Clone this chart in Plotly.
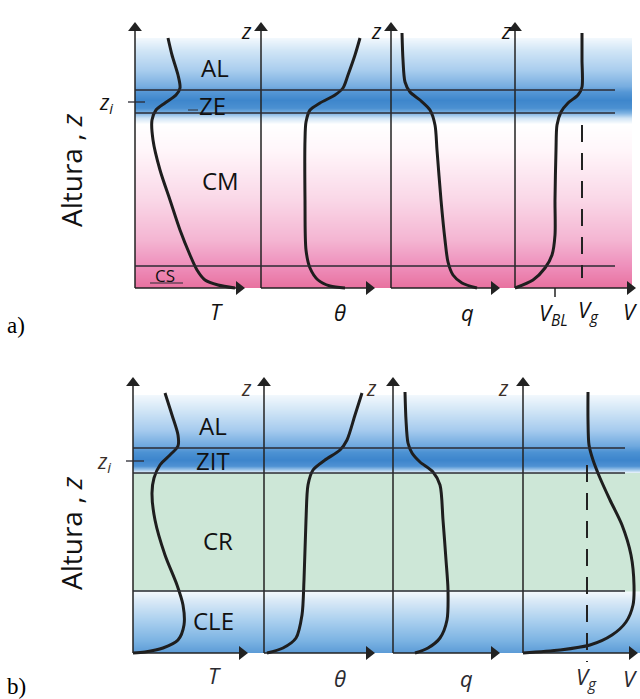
import numpy as np
import plotly.graph_objects as go

# ---------------- DATA ----------------
# Panel a) : height z (0 = ground), x = horizontal profile position
T_a_x = [168, 172, 178, 180, 176, 165, 156, 152, 153, 160, 170, 180, 190, 197, 205, 218, 235]
T_a_z = [250, 233, 213, 200, 193, 185, 178, 168, 148, 118, 88, 58, 33, 18, 8, 3, 0]
TH_a_x = [360, 355, 348, 343, 335, 320, 310, 306, 305, 305, 306, 310, 318, 330, 345]
TH_a_z = [250, 233, 213, 200, 193, 185, 178, 166, 148, 88, 38, 20, 8, 2, 0]
Q_a_x = [402, 403, 405, 410, 420, 430, 435, 437, 441, 445, 448, 453, 462, 477]
Q_a_z = [255, 228, 206, 196, 188, 178, 163, 138, 88, 48, 26, 13, 5, 0]
V_a_x = [582, 582, 582, 578, 568, 561, 557, 556, 555, 555, 552, 545, 533, 515]
V_a_z = [255, 228, 201, 193, 185, 176, 163, 138, 88, 53, 33, 20, 8, 0]

# Panel b)
T_b_x = [165, 172, 178, 178, 170, 160, 154, 152, 155, 165, 177, 183, 184, 178, 163, 145, 133]
T_b_z = [260, 238, 218, 207, 198, 188, 175, 160, 133, 98, 68, 48, 28, 13, 5, 1, 0]
TH_b_x = [362, 355, 347, 340, 325, 313, 308, 306, 304, 302, 296, 283, 267]
TH_b_z = [260, 238, 213, 203, 193, 183, 168, 133, 73, 38, 15, 5, 0]
Q_b_x = [405, 406, 408, 412, 420, 433, 440, 443, 446, 448, 447, 440, 428, 415]
Q_b_z = [261, 233, 210, 200, 191, 181, 168, 133, 93, 63, 33, 15, 5, 0]
V_b_x = [588, 588, 589, 593, 600, 610, 622, 631, 634, 633, 626, 612, 590, 560, 523]
V_b_z = [261, 233, 208, 193, 175, 153, 128, 98, 68, 48, 31, 18, 8, 3, 0]

# layer boundaries (height) and labels
layers_a_z = [198, 175, 22]
zi_a = 186
layers_b_z = [205, 180, 62]
zi_b = 192
layer_names_a = ["AL", "ZE", "CM", "CS"]
layer_names_b = ["AL", "ZIT", "CR", "CLE"]
var_labels_a = ["T", "θ", "q", "V<sub>BL</sub>", "V<sub>g</sub>", "V"]
var_labels_b = ["T", "θ", "q", "V<sub>g</sub>", "V"]
Vg_a = 582
VBL_a = 555
Vg_b = 587

# ---------------- STYLE ----------------
axes_x_a = [135, 261, 391, 515]
axes_x_b = [133, 264, 393, 523]
arrow_end_a = [245, 375, 500, 636]
arrow_end_b = [248, 375, 500, 638]
top_a, top_b = 266, 276

bg_a = [(0, "#e8719f"), (22, "#ee8fbb"), (48, "#f4b5d2"), (88, "#fad7e7"), (138, "#fff6fa"),
        (164, "#ffffff"), (170, "#d0e4f5"), (175, "#7fb3e2"), (180, "#4b90d1"), (188, "#3e86cc"),
        (196, "#5596d5"), (202, "#78aee0"), (218, "#a9cdee"), (238, "#d2e6f6"), (250, "#f2f8fd")]
bg_b = [(0, "#5b9ad6"), (13, "#7db4e3"), (33, "#abd0ef"), (53, "#dbeaf7"), (61.5, "#f4f9fd"),
        (62, "#cde7d7"), (180, "#cde7d7"), (180.5, "#e6f1fa"), (183, "#a5cbec"), (187, "#4f92d3"),
        (193, "#3d85cc"), (201, "#4d92d3"), (207, "#6ea8de"), (223, "#a6cbee"), (243, "#d2e6f6"),
        (258, "#f2f8fd")]

LINE = "#1e1e1e"
AX = "#222222"
SANS = "Open Sans, Arial, sans-serif"
SERIF = "Liberation Serif, Times New Roman, serif"


def hex2rgb(h):
    h = h.lstrip("#")
    return np.array([int(h[i:i + 2], 16) for i in (0, 2, 4)], dtype=float)


def gradient(stops, x0, x1, xa, ya):
    zs = np.array([s[0] for s in stops], dtype=float)
    cols = np.array([hex2rgb(s[1]) for s in stops])
    edges = np.arange(zs[0], zs[-1] + 0.5, 0.5)
    centers = (edges[:-1] + edges[1:]) / 2
    rgb = np.stack([np.interp(centers, zs, cols[:, k]) for k in range(3)], axis=1)
    n = len(centers)
    cs = [[i / (n - 1), "rgb(%d,%d,%d)" % tuple(np.round(rgb[i]).astype(int))] for i in range(n)]
    return go.Heatmap(z=[[i] for i in range(n)], x=[x0, x1], y=edges.tolist(), colorscale=cs,
                      zmin=0, zmax=n - 1, showscale=False, hoverinfo="skip", xaxis=xa, yaxis=ya)


fig = go.Figure()
fig.add_trace(gradient(bg_a, 135, 632, "x", "y"))
fig.add_trace(gradient(bg_b, 133, 640, "x2", "y2"))

shapes = []
annots = []


def line(x0, y0, x1, y1, xr, yr, w=1.3, color="#2b2b33", dash=None):
    d = dict(type="line", x0=x0, y0=y0, x1=x1, y1=y1, xref=xr, yref=yr,
             line=dict(color=color, width=w))
    if dash:
        d["line"]["dash"] = dash
    shapes.append(d)


def text(x, y, s, xr, yr, size=20, italic=False, font=SANS, color="#111", angle=0):
    annots.append(dict(x=x, y=y, xref=xr, yref=yr, text=("<i>%s</i>" % s) if italic else s,
                       showarrow=False, textangle=angle,
                       font=dict(family=font, size=size, color=color)))


def frame(axes_x, ends, top, xa, ya):
    # axis lines
    for ax_x, end in zip(axes_x, ends):
        line(ax_x, 0, ax_x, top - 6, xa, ya, w=1.5, color=AX)
        line(ax_x, 0, end - 6, 0, xa, ya, w=1.5, color=AX)
    # arrow heads
    fig.add_trace(go.Scatter(x=list(axes_x), y=[top - 6] * len(axes_x), mode="markers",
                             marker=dict(symbol="triangle-up", size=12, color=AX),
                             hoverinfo="skip", xaxis=xa, yaxis=ya))
    fig.add_trace(go.Scatter(x=[e - 6 for e in ends], y=[0] * len(ends), mode="markers",
                             marker=dict(symbol="triangle-right", size=12, color=AX),
                             hoverinfo="skip", xaxis=xa, yaxis=ya))


# subtle label box behind AL in panel b
shapes.append(dict(type="rect", x0=192, x1=238, y0=215, y1=251, xref="x2", yref="y2",
                   fillcolor="rgba(40,100,180,0.10)", line=dict(width=0), layer="below"))

frame(axes_x_a, arrow_end_a, top_a, "x", "y")
frame(axes_x_b, arrow_end_b, top_b, "x2", "y2")

for xs, zs in [(T_a_x, T_a_z), (TH_a_x, TH_a_z), (Q_a_x, Q_a_z), (V_a_x, V_a_z)]:
    fig.add_trace(go.Scatter(x=xs, y=zs, mode="lines", line=dict(color=LINE, width=3, shape="spline", smoothing=0.8),
                             hoverinfo="skip", xaxis="x", yaxis="y"))
for xs, zs in [(T_b_x, T_b_z), (TH_b_x, TH_b_z), (Q_b_x, Q_b_z), (V_b_x, V_b_z)]:
    fig.add_trace(go.Scatter(x=xs, y=zs, mode="lines", line=dict(color=LINE, width=3, shape="spline", smoothing=0.8),
                             hoverinfo="skip", xaxis="x2", yaxis="y2"))

# panel a details
for zl in layers_a_z:
    line(135, zl, 615, zl, "x", "y")
line(128, zi_a, 145, zi_a, "x", "y")
line(Vg_a, 163, Vg_a, 10, "x", "y", w=2, color="#222", dash="17px,11px")
line(VBL_a, 0, VBL_a, -9, "x", "y", w=1.5, color="#222")
line(150, 5, 183, 5, "x", "y", w=1.2)
line(188, 178, 198, 178, "x", "y", w=1.0)

# panel b details
for zl in layers_b_z:
    line(133, zl, 625, zl, "x2", "y2")
line(126, zi_b, 144, zi_b, "x2", "y2")
line(Vg_b, 188, Vg_b, -9, "x2", "y2", w=2, color="#222", dash="17px,11px")

# labels panel a
for (xx, zz), s in zip([(215, 221), (212, 183), (220, 108), (165, 13)], layer_names_a):
    text(xx, zz, s, "x", "y", size=24 if s != "CS" else 17)
for xx in [246, 376, 506]:
    text(xx, 257, "z", "x", "y", size=21, italic=True)
for (xx, zz), s in zip([(216, -23), (340, -24), (467, -24), (553, -26), (588, -23), (630, -23)], var_labels_a):
    text(xx, zz, s, "x", "y", size=22, italic=True)
text(106, 185, "z<sub>i</sub>", "x", "y", size=21, italic=True)
text(71, 118, "Altura , <i>z</i>", "x", "y", size=28, angle=-90)
text(16, -37, "a)", "x", "y", size=23, font=SERIF, color="#000")

# labels panel b
for (xx, zz), s in zip([(213, 228), (213, 193), (218, 113), (213, 33)], layer_names_b):
    text(xx, zz, s, "x2", "y2", size=24)
for xx in [246, 371, 503]:
    text(xx, 265, "z", "x2", "y2", size=21, italic=True, color="#3a2f2a")
for (xx, zz), s in zip([(214, -22), (340, -25), (466, -25), (586, -25), (630, -25)], var_labels_b):
    text(xx, zz, s, "x2", "y2", size=22, italic=True, color="#2a2a30")
text(104, 191, "z<sub>i</sub>", "x2", "y2", size=21, italic=True, color="#3a2f2a")
text(71, 120, "Altura , <i>z</i>", "x2", "y2", size=28, angle=-90)
text(16, -33, "b)", "x2", "y2", size=23, font=SERIF, color="#000")

ax_common = dict(visible=False, fixedrange=True, showgrid=False, zeroline=False)
fig.update_layout(
    width=640, height=699, margin=dict(l=0, r=0, t=0, b=0),
    paper_bgcolor="white", plot_bgcolor="rgba(0,0,0,0)", showlegend=False,
    xaxis=dict(range=[0, 640], domain=[0, 1], anchor="y", **ax_common),
    xaxis2=dict(range=[0, 640], domain=[0, 1], anchor="y2", **ax_common),
    yaxis=dict(range=[-57, 288], domain=[1 - 345 / 699, 1], anchor="x", **ax_common),
    yaxis2=dict(range=[-46, 308], domain=[0, 1 - 345 / 699], anchor="x2", **ax_common),
    shapes=shapes, annotations=annots,
)
fig.write_html("out.html", config={"displayModeBar": False},
               post_script="document.body.style.margin='0';document.body.style.overflow='hidden';")
